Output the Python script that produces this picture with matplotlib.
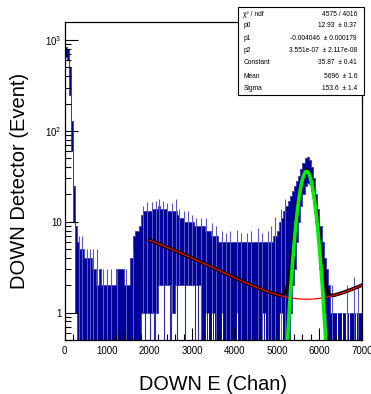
import numpy as np
import matplotlib.pyplot as plt
from matplotlib.ticker import MultipleLocator, LogLocator, FixedLocator, FixedFormatter

plt.rcParams['font.family'] = ['Liberation Sans', 'DejaVu Sans']
plt.rcParams['mathtext.fontset'] = 'custom'
plt.rcParams['mathtext.rm'] = 'Liberation Sans'

# histogram: max / min count in each 50-channel slice (0 .. 7000)
bin_width = 50
hist_max = [840, 800, 500, 130, 25, 9, 6, 5, 5, 4,
            4, 4, 4, 3, 3, 2, 3, 2, 2, 2,
            2, 2, 2, 2, 3, 3, 3, 3, 2, 2,
            2, 4, 7, 8, 8, 9, 12, 13, 13, 13,
            13, 14, 14, 14, 15, 14, 14, 14, 13, 13,
            13, 13, 13, 12, 11, 11, 10, 10, 10, 10,
            10, 9, 9, 9, 9, 9, 8, 8, 8, 7,
            7, 7, 6, 6, 6, 6, 6, 6, 6, 6,
            6, 6, 6, 6, 6, 6, 6, 6, 6, 6,
            6, 6, 6, 6, 6, 6, 6, 6, 7, 7,
            8, 10, 11, 13, 15, 17, 19, 22, 25, 28,
            32, 38, 44, 50, 52, 48, 40, 30, 20, 14,
            9, 6, 4, 3, 2, 1, 1, 1, 1, 1,
            1, 1, 1, 1, 1, 1, 1, 1, 1, 1]
hist_min = ([650, 600, 250, 60, 10, 1, 0, 0, 0, 0]
            + [0] * 26
            + [1, 1, 1, 1, 1, 1, 1, 1]
            + [2, 2, 2, 2, 2, 2, 1, 1, 2, 2, 2, 2, 2, 2, 2, 2, 2, 2, 2, 2]
            + [0] * 42
            + [1, 2, 3, 6, 10, 15, 20, 25, 27, 26, 22, 16, 10, 6, 3, 2, 1, 0, 0, 0]
            + [0] * 14)

# single channels sticking out above the band
spike_chan = [330, 420, 520, 600, 660, 760, 900, 1000, 1100, 1240, 1450, 1620,
              1850, 1950, 2050, 2150, 2230, 2320, 2400, 2520, 2620, 2700, 2800,
              2900, 3000, 3100, 3200, 3330, 3470, 3560, 3700, 3800, 3900, 4050,
              4150, 4300, 4400, 4550, 4650, 4780, 4850, 4960, 5100, 5200,
              6300, 6640, 6810, 6900]
spike_top = [7, 7, 5, 5, 5, 5, 3, 3, 3, 3, 3, 5,
             15, 16.5, 16.5, 17, 18, 17, 16, 16, 18, 14, 13,
             13, 12, 11, 11, 11, 9.7, 9, 8, 7.5, 8, 8.2,
             7.5, 7.5, 8, 8.6, 7.5, 8, 9, 11.3, 14, 18,
             2, 2, 2.5, 2]
# empty channels: white gaps from the bottom
gap_chan = [3330, 3380, 3470, 3520, 3700, 4060, 4680, 4720, 5060, 5120,
            6420, 6520, 6620, 6700, 6860]
gap_top = [1, 1, 1, 1, 1, 1, 1, 1, 1, 1, 1, 1, 1, 1, 1]
# low channels dropping below the band floor
dip_chan = [1900, 2020, 2100, 2140, 2330, 2480, 2510, 2650, 2830, 3080, 3150]

# fit results: pol2 + gaus, fitted over 2000 .. 7000
fit_lo, fit_hi = 2000, 7000
chi2, ndf = 4575, 4016
p0, p0_err = 12.93, 0.37
p1, p1_err = -0.004046, 0.000179
p2, p2_err = 3.551e-07, 2.117e-08
const, const_err = 35.87, 0.41
mean, mean_err = 5696, 1.6
sigma, sigma_err = 153.6, 1.4

ymin = 0.5
navy = '#000099'

fig = plt.figure(figsize=(3.71, 3.94), dpi=100)
ax = fig.add_axes([0.1739, 0.137, 0.8018, 0.8084])

edges = np.arange(len(hist_max) + 1) * bin_width
xs = np.repeat(edges, 2)[1:-1]
hi = np.repeat(np.array(hist_max, float), 2)
lo = np.repeat(np.where(np.array(hist_min) > 0, hist_min, ymin * 0.5).astype(float), 2)
ax.fill_between(xs, lo, hi, color=navy, lw=0.6, edgecolor='#3a3ab8')

lo_arr = np.array(hist_min, float)
for c, t in zip(spike_chan, spike_top):
    base = max(lo_arr[int(c // bin_width)], ymin * 0.5)
    ax.vlines(c, base, t, color='#5858c0', lw=0.8)
for c in dip_chan:
    ax.vlines(c, ymin * 0.5, lo_arr[int(c // bin_width)], color='#2a2aa8', lw=0.8)
for c, t in zip(gap_chan, gap_top):
    ax.vlines(c, ymin * 0.5, t, color='white', lw=0.8)

xf = np.linspace(fit_lo, fit_hi, 800)
bg = p0 + p1 * xf + p2 * xf ** 2
gs = const * np.exp(-0.5 * ((xf - mean) / sigma) ** 2)
ax.plot(xf, bg + gs, color='black', lw=2.6)
ax.plot(xf, bg, color='red', lw=0.9)
ax.plot(xf, gs, color='#00ee00', lw=2.6)

ax.set_xlim(0, 7000)
ax.set_yscale('log')
ax.set_ylim(ymin, 1600)

ax.xaxis.set_major_locator(MultipleLocator(1000))
ax.xaxis.set_minor_locator(MultipleLocator(200))
ax.yaxis.set_major_locator(FixedLocator([1, 10, 100, 1000]))
ax.yaxis.set_major_formatter(FixedFormatter(['1', '10', '10$^{2}$', '10$^{3}$']))
ax.yaxis.set_minor_locator(LogLocator(base=10, subs=np.arange(2, 10)))
ax.tick_params(which='both', direction='in', top=False, right=False,
               labelsize=7, pad=2, width=0.8)
ax.tick_params(which='major', length=9)
ax.tick_params(which='minor', length=4.5)
ax.tick_params(axis='x', pad=4)
for s in ax.spines.values():
    s.set_linewidth(0.9)

ax.set_xlabel('DOWN E (Chan)', fontsize=14.3, labelpad=14)
ax.set_ylabel('DOWN Detector (Event)', fontsize=14.5, labelpad=12)

# stats box
bx0, by0, bx1, by1 = 0.6415, 0.759, 0.981, 0.982
fig.patches.append(plt.Rectangle((bx0, by0), bx1 - bx0, by1 - by0, transform=fig.transFigure,
                                 facecolor='white', edgecolor='black', lw=0.8, zorder=5))
rows = [('\u03c7\u00b2 / ndf', f'{chi2} / {ndf}'),
        ('p0', f'{p0:.2f}  \u00b1 {p0_err:.2f}'),
        ('p1', f'{p1:.6f}  \u00b1 {p1_err:.6f}'),
        ('p2', f'{p2:.3e}  \u00b1 {p2_err:.3e}'),
        ('Constant', f'{const:.2f}  \u00b1 {const_err:.2f}'),
        ('Mean', f'{mean}  \u00b1 {mean_err:.1f}'),
        ('Sigma', f'{sigma:.1f}  \u00b1 {sigma_err:.1f}')]
row_y = [14, 25.5, 38, 51, 63, 76, 88.3]
for (lab, val), py in zip(rows, row_y):
    fy = 1 - py / 394
    fig.text(243.5 / 371, fy, lab, fontsize=4.8, va='center', ha='left', zorder=6)
    fig.text(357 / 371, fy, val, fontsize=4.8, va='center', ha='right', zorder=6)

fig.savefig('out.png', dpi=100)
